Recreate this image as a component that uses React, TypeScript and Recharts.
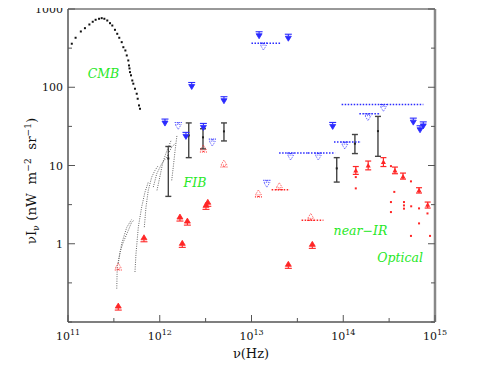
import React from "react";
import { ComposedChart, XAxis, YAxis, Scatter, ErrorBar } from "recharts";

const SERIF = "'DejaVu Serif', serif";
const BLUE = "#2a2aff";
const RED = "#ff2626";
const GREEN = "#27e827";
const AXIS = "#555";
const C_UM = 2.998e14; // c in micron/s, nu = C_UM / lambda

// axis ticks
const freqTicks = [1e11, 3.162e11, 1e12, 3.162e12, 1e13, 3.162e13, 1e14, 3.162e14, 1e15];
const freqTickLabels = ["11", "", "12", "", "13", "", "14", "", "15"];
const lambdaTicks = [1000, 300, 100, 30, 10, 3, 1, 0.3];
const lambdaTickLabels = ["1000", "", "100", "", "10", "", "1", ""];
const yTicks = [0.1, 0.3162, 1, 3.162, 10, 31.62, 100, 316.2, 1000];
const yTickLabels = ["", "", "1", "", "10", "", "100", "", "1000"];

// CMB
const cmbNu = [1.10e11, 1.21e11, 1.38e11, 1.53e11, 1.71e11, 1.86e11, 2.00e11, 2.18e11, 2.33e11, 2.49e11,
  2.68e11, 2.87e11, 3.04e11, 3.25e11, 3.44e11, 3.62e11, 3.85e11, 4.01e11, 4.22e11, 4.37e11, 4.54e11,
  4.62e11, 4.68e11, 4.74e11, 4.86e11, 5.02e11, 5.15e11, 5.37e11, 5.61e11, 5.75e11, 5.94e11, 6.09e11];
const cmbI = [360, 429, 516, 569, 634, 687, 728, 750, 764, 750,
  713, 659, 615, 542, 482, 429, 377, 325, 295, 255, 220,
  190, 174, 156, 142, 122, 111, 95.7, 82.6, 71.3, 58.6, 53.1];

// FIB dotted spectra [nu, nuI]
const fibA = [[3.40e11, 0.267], [3.44e11, 0.504], [3.69e11, 0.783], [4.01e11, 1.05], [4.54e11, 1.48], [4.94e11, 1.89], [5.24e11, 1.99]];
const fibB = [[5.37e11, 0.436], [5.51e11, 0.748], [5.84e11, 1.63], [6.35e11, 2.94], [6.90e11, 4.57], [7.50e11, 6.14]];
const fibC = [[6.79e11, 1.63], [7.08e11, 2.94], [7.50e11, 4.81], [8.17e11, 7.11], [8.87e11, 8.65], [9.64e11, 10.0]];
const fibD = [[8.51e11, 5.30], [9.27e11, 7.85], [1.05e12, 10.5], [1.19e12, 12.8], [1.35e12, 17.2], [1.47e12, 19.0]];
const fibE = [[1.35e12, 6.46], [1.41e12, 10.0], [1.47e12, 15.6], [1.54e12, 24.2]];
const fibF = [[3.53e11, 0.562], [3.85e11, 1.01], [4.37e11, 1.62], [4.94e11, 2.05]];
const fibG = [[9.33e11, 4.81], [1.01e12, 7.48], [1.08e12, 10.97], [1.20e12, 15.6], [1.33e12, 20.9]];

// detections with error bars (black)
const detNu = [1.24e12, 2.07e12, 2.96e12, 5.01e12, 8.49e13, 1.34e14, 2.39e14];
const detI = [12.3, 24.2, 22.9, 27.3, 9.19, 19.0, 27.5];
const detLo = [4.03, 12.6, 16.3, 20.6, 6.14, 14.2, 13.1];
const detHi = [17.5, 35.0, 29.5, 35.0, 12.6, 24.9, 42.4];

// upper limits (blue)
const ulNu = [1.14e12, 2.23e12, 2.99e12, 5.01e12, 1.93e12, 1.21e13, 2.52e13, 7.67e13, 5.80e14, 6.87e14, 7.45e14];
const ulI = [39.2, 115, 34.5, 75.7, 26.5, 512, 476, 35.5, 40.3, 32.2, 36.1];
const ulOpenNu = [1.59e12, 3.74e12, 1.47e13];
const ulOpenI = [35.5, 21.7, 6.46];
const ulBandNu = [1.35e13, 2.74e14, 1.86e14, 1.04e14, 2.67e13, 5.35e13];
const ulBandI = [366, 60.3, 45.9, 19.9, 14.4, 14.4];
const ulBandLo = [1.00e13, 9.62e13, 1.50e14, 7.93e13, 2.00e13, 4.13e13];
const ulBandHi = [2.05e13, 7.45e14, 2.47e14, 1.55e14, 4.13e13, 8.13e13];

// lower limits (red)
const llNu = [3.53e11, 6.73e11, 1.66e12, 2.00e12, 1.76e12, 3.19e12, 3.34e12, 2.52e13, 4.60e13];
const llI = [0.142, 1.06, 1.95, 1.73, 0.899, 2.75, 3.01, 0.485, 0.873];
const llOpenNu = [3.53e11, 2.99e12, 5.01e12, 1.19e13];
const llOpenI = [0.461, 14.9, 9.55, 3.97];
const llBandNu = [2.01e13, 4.42e13];
const llBandI = [4.91, 1.99];
const llBandLo = [1.66e13, 3.52e13];
const llBandHi = [2.58e13, 6.07e13];

// optical / near-IR measurements (red)
const optNu = [1.37e14, 1.87e14, 2.74e14, 3.66e14, 4.48e14, 6.70e14, 8.32e14];
const optI = [8.65, 10.0, 11.1, 8.65, 7.26, 4.81, 3.14];
const optLo = [7.7, 8.8, 9.7, 7.85, 6.7, 4.45, 2.86];
const optHi = [9.7, 11.4, 12.6, 9.55, 8.0, 5.2, 3.41];
const dotNu = [1.37e14, 1.37e14, 3.31e14, 3.60e14, 3.31e14, 3.31e14, 4.59e14, 4.59e14, 4.59e14,
  5.47e14, 5.50e14, 5.47e14, 6.70e14, 6.70e14, 8.28e14, 8.83e14];
const dotI = [7.11, 5.10, 9.82, 4.60, 3.41, 2.54, 3.41, 3.09, 2.81, 6.27, 3.01, 1.26, 2.83, 1.82, 2.44, 1.26];

// annotations
const noteText = ["CMB", "FIB", "near\u2212IR", "Optical"];
const noteNu = [2.44e11, 2.42e12, 1.54e14, 4.16e14];
const noteI = [133, 5.25, 1.28, 0.578];

const pts = (xs: number[], ys: number[]) => xs.map((x, i) => ({ x, y: ys[i] }));
const pairs = (a: number[][]) => a.map(([x, y]) => ({ x, y }));
const yBand = (xs: number[], ys: number[], lo: number[], hi: number[]) =>
  xs.map((x, i) => ({ x, y: ys[i], err: [ys[i] - lo[i], hi[i] - ys[i]] }));
const xBand = (xs: number[], ys: number[], lo: number[], hi: number[]) =>
  xs.map((x, i) => ({ x, y: ys[i], err: [x - lo[i], hi[i] - x] }));

const BottomTick = (p: any) => {
  const lab = freqTickLabels[p.index];
  return (
    <g>
      <line x1={p.x} x2={p.x} y1={p.y} y2={p.y - (lab ? 7 : 4)} stroke={AXIS} />
      {lab && (
        <text x={p.x} y={p.y + 18} textAnchor="middle" fontFamily={SERIF} fontSize={11} fill="#111">
          10<tspan dy={-5} fontSize={8}>{lab}</tspan>
        </text>
      )}
    </g>
  );
};

const TopTick = (p: any) => {
  const lab = lambdaTickLabels[p.index];
  return (
    <g>
      <line x1={p.x} x2={p.x} y1={p.y} y2={p.y + (lab ? 7 : 4)} stroke={AXIS} />
      {lab && (
        <text x={p.x} y={p.y - 6} textAnchor="middle" fontFamily={SERIF} fontSize={11} fill="#111">
          {lab}
        </text>
      )}
    </g>
  );
};

const LeftTick = (p: any) => {
  const lab = yTickLabels[p.index];
  return (
    <g>
      <line x1={p.x} x2={p.x + (lab ? 7 : 4)} y1={p.y} y2={p.y} stroke={AXIS} />
      {lab && (
        <text x={p.x - 5} y={p.y + 4} textAnchor="end" fontFamily={SERIF} fontSize={11} fill="#111">
          {lab}
        </text>
      )}
    </g>
  );
};

const RightTick = (p: any) => {
  const lab = yTickLabels[p.index];
  return <line x1={p.x} x2={p.x - (lab ? 7 : 4)} y1={p.y} y2={p.y} stroke={AXIS} />;
};

const square = (color: string, s: number) => (p: any) =>
  <rect x={p.cx - s / 2} y={p.cy - s / 2} width={s} height={s} fill={color} />;

const upper = (open: boolean) => (p: any) => {
  const { cx, cy } = p;
  return (
    <g stroke={BLUE} strokeWidth={1.1} strokeDasharray={open ? "1 1" : undefined}>
      <line x1={cx - 3.5} x2={cx + 3.5} y1={cy} y2={cy} />
      <line x1={cx} x2={cx} y1={cy} y2={cy + 2} />
      <path d={`M${cx - 3},${cy + 2}L${cx + 3},${cy + 2}L${cx},${cy + 7}Z`} fill={open ? "none" : BLUE} strokeWidth={0.8} />
    </g>
  );
};

const lower = (open: boolean) => (p: any) => {
  const { cx, cy } = p;
  return (
    <g stroke={RED} strokeWidth={1.1} strokeDasharray={open ? "1 1" : undefined}>
      <line x1={cx - 3.5} x2={cx + 3.5} y1={cy} y2={cy} />
      <line x1={cx} x2={cx} y1={cy} y2={cy - 2} />
      <path d={`M${cx - 3},${cy - 2}L${cx + 3},${cy - 2}L${cx},${cy - 7}Z`} fill={open ? "none" : RED} strokeWidth={0.8} />
    </g>
  );
};

const triUp = (p: any) => {
  const { cx, cy } = p;
  return <path d={`M${cx - 2.5},${cy + 2}L${cx + 2.5},${cy + 2}L${cx},${cy - 2.5}Z`} fill={RED} />;
};

const noteShape = (p: any) => (
  <text x={p.cx} y={p.cy} textAnchor="middle" fontFamily={SERIF} fontStyle="italic" fontSize={12.5} fill={GREEN}>
    {p.payload.text}
  </text>
);

const fibLine = { stroke: "#666", strokeWidth: 1, strokeDasharray: "1 1.3" };
const none = () => <g />;

export default function App() {
  const notes = noteText.map((text, i) => ({ x: noteNu[i], y: noteI[i], text }));
  return (
    <div style={{ position: "relative", width: 491, height: 383, margin: "-8px 0 0 -8px" }}>
      <ComposedChart width={491} height={383} margin={{ top: 8, right: 55, bottom: 60, left: 67 }}>
        <XAxis dataKey="x" type="number" scale="log" domain={[1e11, 1e15]} allowDataOverflow
          ticks={freqTicks} interval={0} height={1} tickSize={0} tickMargin={0} tickLine={false}
          axisLine={{ stroke: AXIS, strokeWidth: 1.5 }} tick={BottomTick} />
        <XAxis xAxisId="top" orientation="top" type="number" scale="log" domain={[1e11, 1e15]} allowDataOverflow
          ticks={lambdaTicks.map((l) => C_UM / l)} interval={0} height={1} tickSize={0} tickMargin={0} tickLine={false}
          axisLine={{ stroke: "#333", strokeWidth: 1 }} tick={TopTick} />
        <YAxis dataKey="y" type="number" scale="log" domain={[0.1, 1000]} allowDataOverflow
          ticks={yTicks} interval={0} width={1} tickSize={0} tickMargin={0} tickLine={false}
          axisLine={{ stroke: AXIS, strokeWidth: 1.5 }} tick={LeftTick} />
        <YAxis yAxisId="right" orientation="right" type="number" scale="log" domain={[0.1, 1000]} allowDataOverflow
          ticks={yTicks} interval={0} width={1} tickSize={0} tickMargin={0} tickLine={false}
          axisLine={{ stroke: "#888", strokeWidth: 2.5 }} tick={RightTick} />

        {[fibA, fibB, fibC, fibD, fibE, fibF, fibG].map((c, i) => (
          <Scatter key={"fib" + i} data={pairs(c)} line={fibLine} shape={none} isAnimationActive={false} />
        ))}
        <Scatter data={pts(cmbNu, cmbI)} shape={square("#111", 2)} isAnimationActive={false} />
        <Scatter data={yBand(detNu, detI, detLo, detHi)} shape={square("#222", 2)} isAnimationActive={false}>
          <ErrorBar dataKey="err" direction="y" width={3} stroke="#444" strokeWidth={1.4} isAnimationActive={false} />
        </Scatter>
        <Scatter data={pts(ulNu, ulI)} shape={upper(false)} isAnimationActive={false} />
        <Scatter data={pts(ulOpenNu, ulOpenI)} shape={upper(true)} isAnimationActive={false} />
        <Scatter data={xBand(ulBandNu, ulBandI, ulBandLo, ulBandHi)} shape={upper(true)} isAnimationActive={false}>
          <ErrorBar dataKey="err" direction="x" width={0} stroke={BLUE} strokeDasharray="1.5 1.5" isAnimationActive={false} />
        </Scatter>
        <Scatter data={pts(llNu, llI)} shape={lower(false)} isAnimationActive={false} />
        <Scatter data={pts(llOpenNu, llOpenI)} shape={lower(true)} isAnimationActive={false} />
        <Scatter data={xBand(llBandNu, llBandI, llBandLo, llBandHi)} shape={lower(true)} isAnimationActive={false}>
          <ErrorBar dataKey="err" direction="x" width={0} stroke={RED} strokeDasharray="1.5 1.5" isAnimationActive={false} />
        </Scatter>
        <Scatter data={yBand(optNu, optI, optLo, optHi)} shape={triUp} isAnimationActive={false}>
          <ErrorBar dataKey="err" direction="y" width={3} stroke={RED} strokeWidth={1.2} isAnimationActive={false} />
        </Scatter>
        <Scatter data={pts(dotNu, dotI)} shape={square(RED, 2)} isAnimationActive={false} />
        <Scatter data={notes} shape={noteShape} isAnimationActive={false} />
      </ComposedChart>
      <svg width={491} height={383} style={{ position: "absolute", left: 0, top: 0, pointerEvents: "none" }}>
        <text x={251} y={358} textAnchor="middle" fontFamily={SERIF} fontSize={13} fill="#111">
          {"\u03bd(Hz)"}
        </text>
        <text x={36} y={181} transform="rotate(-90 36 181)" textAnchor="middle" fontFamily={SERIF}
          fontSize={13.5} fill="#111" style={{ whiteSpace: "pre" }}>
          {"\u03bdI"}
          <tspan dy={3} fontSize={9}>{"\u03bd"}</tspan>
          <tspan dy={-3}>{" (nW  m"}</tspan>
          <tspan dy={-5} fontSize={9}>{"\u22122"}</tspan>
          <tspan dy={5}>{"  sr"}</tspan>
          <tspan dy={-5} fontSize={9}>{"\u22121"}</tspan>
          <tspan dy={5}>{")"}</tspan>
        </text>
      </svg>
    </div>
  );
}
